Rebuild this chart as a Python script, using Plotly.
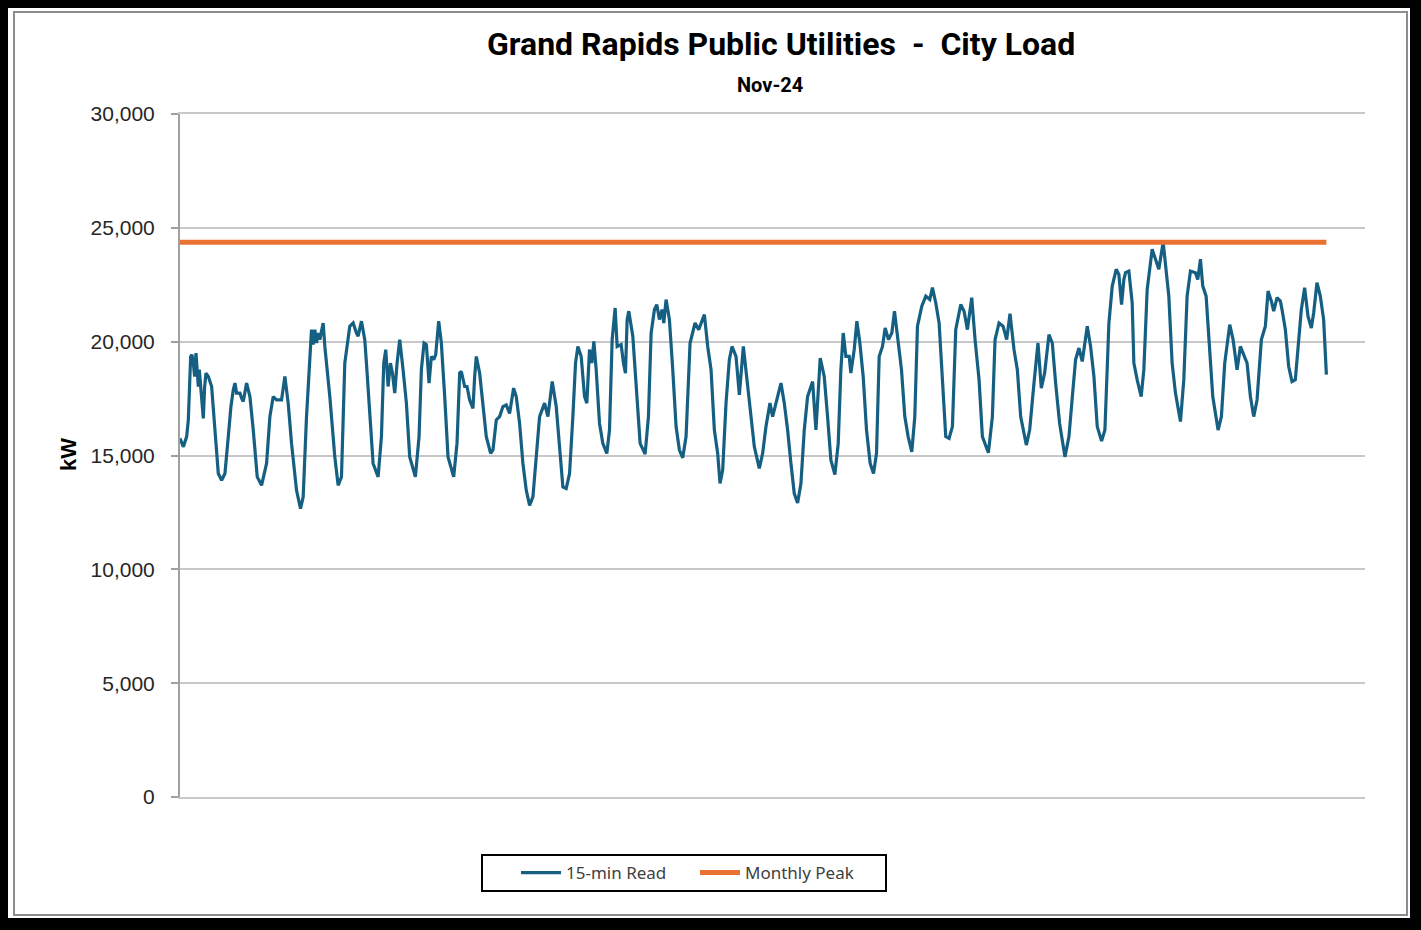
import plotly.graph_objects as go

# ---------------- data ----------------
# hours elapsed since 2024-11-01 00:00, and the 15-min load reading (kW)
read_hours = [
    0.00, 2.09, 4.18, 5.23, 6.69, 7.53, 8.36, 9.20, 10.03, 10.87, 11.50, 12.12, 12.96, 13.80, 14.63, 15.47, 16.30, 17.77, 18.81, 19.86,
    21.95, 24.04, 26.13, 28.22, 30.31, 31.98, 33.44, 34.49, 35.53, 37.63, 38.67, 39.72, 41.81, 43.90, 45.99,
    48.49, 51.21, 54.35, 56.44, 58.53, 60.62, 63.75, 65.84, 67.93, 70.03,
    73.16, 75.67, 77.34, 79.43, 81.10, 82.57, 83.61, 84.66, 85.70, 86.75, 87.79, 89.88, 90.93, 94.06,
    97.20, 99.29, 101.38, 103.47, 106.60, 108.70, 110.79, 111.83, 113.92, 116.01,
    117.06, 119.15, 121.24, 124.38, 126.47, 127.93, 129.18, 130.65, 132.11, 133.36, 134.83, 136.29, 137.96, 140.05, 142.14,
    144.23, 147.79, 150.09, 151.55, 153.22, 154.69, 156.36, 157.82, 159.28, 160.54, 162.42, 164.09, 166.19,
    168.28, 171.83, 173.92, 175.59, 176.64, 178.73, 180.19, 181.86, 183.95, 185.00, 186.04, 188.13, 190.22,
    192.31, 195.03, 196.49, 198.58, 200.67, 202.76, 204.85, 206.94, 209.45, 211.12, 213.21,
    215.30, 217.40, 219.49, 221.58, 223.67, 225.76, 228.89, 230.99, 233.70,
    236.21, 238.30, 240.39, 242.48, 244.57, 246.66, 248.33, 249.80, 251.89, 253.98, 255.44, 257.11, 258.58, 259.83, 261.29,
    263.38, 265.47, 267.98, 269.66, 271.33, 273.21, 274.46, 276.97, 278.43, 279.69, 280.73, 281.78, 284.29, 286.80,
    288.89, 292.02, 294.11, 295.79, 297.88, 299.34, 301.01, 302.68, 303.73, 305.19, 307.28, 309.37,
    311.46, 313.55, 315.64, 317.73, 320.24, 323.38, 325.68, 329.23, 331.32, 333.41,
    335.50, 337.59, 339.05, 340.73, 342.82, 344.91, 346.58, 349.09, 351.18, 353.69,
    355.36, 357.45, 360.59, 363.72, 365.81, 367.90, 370.41, 372.08, 374.59, 377.31, 379.40, 381.49,
    383.58, 385.67, 387.76, 389.85, 391.94, 394.03, 397.17, 399.26, 401.97, 404.48, 406.57,
    408.66, 411.17, 413.26, 414.93, 416.40, 418.07, 420.16, 421.21, 423.30, 424.97, 426.85, 428.94, 431.03,
    433.33, 435.42, 437.30, 438.97, 441.06, 442.74, 444.83, 446.92, 448.59, 450.47, 452.98, 455.07,
    457.16, 459.46, 461.34, 463.01, 465.73, 468.24, 470.75, 472.42,
    474.51, 476.60, 478.69, 480.78, 482.87, 484.96, 487.05, 490.19, 492.28, 494.37, 497.09, 499.18, 501.68,
    503.77, 507.54, 510.05, 511.72, 514.23, 516.73, 519.03, 521.12, 523.63, 525.72, 527.81,
    531.37, 533.46, 536.17, 538.68, 540.77, 542.86, 545.58, 547.67, 549.76, 552.27,
    555.61, 558.12, 560.63, 562.30, 564.39, 566.48, 569.62, 571.71, 573.80, 575.89,
    578.61, 580.70, 583.21, 585.30, 587.80, 589.48, 591.15, 592.60, 593.66,
    595.74, 597.83, 598.88, 600.97, 603.48, 605.15, 607.24, 610.37, 612.88, 614.55, 617.27, 618.73, 620.82, 622.91, 625.00,
    628.14, 630.23, 632.32, 634.41, 637.55, 639.01, 640.68, 642.15, 644.24, 646.33, 648.42,
    651.76, 653.85, 655.94, 659.08, 661.17, 663.68, 665.77, 667.86, 669.95, 672.04,
    674.13, 676.22, 678.94, 681.44, 683.12, 685.21, 686.67, 688.76, 690.85, 691.90, 693.99, 696.08,
    698.17, 700.26, 702.35, 704.02, 706.11, 708.20, 710.30, 711.76, 713.85, 715.94, 718.03, 719.75,
]
read_kw = [
    15750, 15380, 15830, 16560, 19350, 19430, 19060, 18470, 19500, 18320, 18030, 18770, 17880, 17000, 16630, 18030, 18620, 18470, 18180, 18030,
    16120, 14210, 13910, 14210, 15830, 17150, 17880, 18180, 17740, 17740, 17520, 17370, 18180, 17590, 16120,
    14060, 13690, 14650, 16710, 17590, 17440, 17440, 18470, 17300, 15530,
    13470, 12660, 13180, 16710, 19060, 20530, 19870, 20530, 19940, 20380, 20090, 20820, 19790, 17590,
    14940, 13690, 14060, 19060, 20680, 20820, 20380, 20240, 20900, 20090,
    19060, 16710, 14650, 14060, 15830, 19060, 19650, 18030, 19060, 18620, 17740, 19060, 20090, 18770, 17300,
    14940, 14060, 15830, 18770, 19940, 19870, 18180, 19350, 19210, 19430, 20900, 19940, 17590,
    14940, 14060, 15530, 18620, 18690, 18030, 18030, 17440, 17070, 18470, 19350, 18620, 17300,
    15830, 15090, 15240, 16560, 16710, 17150, 17220, 16850, 17960, 17590, 16410,
    14650, 13470, 12810, 13180, 14940, 16710, 17300, 16710, 18250,
    17150, 15380, 13620, 13550, 14210, 16710, 19060, 19790, 19350, 17590, 17300, 19650, 19060, 20010, 18770,
    16410, 15530, 15090, 16120, 20090, 21480, 19790, 19870, 19060, 18620, 20970, 21340, 20240, 17590,
    15530, 15060, 16710, 20380, 21410, 21630, 20970, 21410, 20820, 21850, 20970, 18770,
    16270, 15240, 14900, 15830, 19940, 20820, 20530, 21190, 19790, 18770,
    16120, 15090, 13770, 14360, 17300, 19210, 19790, 19350, 17660, 19790,
    18770, 17300, 15380, 14430, 15090, 16270, 17300, 16710, 17440, 18180, 17300, 16120,
    14650, 13330, 12910, 13770, 16120, 17590, 18250, 16120, 19280, 18470, 16710,
    14800, 14160, 15530, 18770, 20380, 19350, 19350, 18620, 19650, 20900, 19940, 18470, 16120,
    14650, 14210, 15090, 19350, 19790, 20600, 20090, 20380, 21340, 20240, 18770, 16710,
    15830, 15160, 16710, 20680, 21560, 22000, 21850, 22370,
    21700, 20820, 18470, 15830, 15750, 16270, 20530, 21630, 21340, 20530, 21930, 20090, 18330,
    15830, 15120, 16710, 20090, 20820, 20680, 20090, 21230, 19650, 18770, 16710,
    15460, 16120, 18180, 19940, 17960, 18620, 20310, 19940, 18180, 16410,
    14940, 15830, 17880, 19210, 19720, 19130, 20680, 19790, 18470, 16270,
    15630, 16120, 20820, 22440, 23180, 22950, 21630, 22730, 23030,
    23100, 21700, 19060, 18320, 17590, 18770, 22290, 24060, 23470, 23180, 24370, 23470, 22000, 19060, 17740,
    16490, 18320, 22000, 23100, 23030, 22730, 23620, 22440, 22000, 19790, 17590,
    16120, 16710, 19060, 20750, 20090, 18770, 19790, 19430, 19060, 17590,
    16710, 17440, 20090, 20680, 22220, 21780, 21340, 21930, 21780, 21410, 20530, 18910,
    18250, 18330, 20090, 21410, 22370, 21120, 20600, 21260, 22590, 22000, 20970, 18550,
]
assert len(read_hours) == len(read_kw)

monthly_peak_kw = 24370
axis_span_hours = 744          # category axis spans 31 days
y_ticks = [0, 5000, 10000, 15000, 20000, 25000, 30000]
title_text = "Grand Rapids Public Utilities  -  City Load"
subtitle_text = "Nov-24"
y_title_text = "kW"
read_name = "15-min Read"
peak_name = "Monthly Peak"

# ---------------- layout geometry ----------------
W, H = 1421, 930
L, R, T, B = 180, 56, 114, 133
PW, PH = W - L - R, H - T - B


def fx(x):
    return (x - L) / PW


def fy(y):
    return (H - B - y) / PH


BLUE = "#156082"
ORANGE = "#E97132"
GRID = "#c8c8c8"
AXIS = "#a0a0a0"

fig = go.Figure()
fig.add_trace(go.Scatter(
    x=read_hours, y=read_kw, mode="lines", name=read_name,
    line=dict(color=BLUE, width=3.2), hoverinfo="skip",
))
fig.add_trace(go.Scatter(
    x=[read_hours[0], read_hours[-1]], y=[monthly_peak_kw, monthly_peak_kw],
    mode="lines", name=peak_name,
    line=dict(color=ORANGE, width=5), hoverinfo="skip",
))

shapes = [
    dict(type="rect", xref="paper", yref="paper", x0=fx(8), x1=fx(1410), y0=fy(918), y1=fy(8),
         fillcolor="white", line=dict(width=0), layer="below"),
    dict(type="rect", xref="paper", yref="paper", x0=fx(14), x1=fx(1407), y0=fy(915), y1=fy(12),
         fillcolor="rgba(0,0,0,0)", line=dict(color="#8c8c8c", width=2), layer="below"),
    # legend frame
    dict(type="rect", xref="paper", yref="paper", x0=fx(482), x1=fx(886), y0=fy(891), y1=fy(855),
         fillcolor="white", line=dict(color="#000000", width=2), layer="below"),
]

annotations = [
    dict(text=f"<b>{title_text}</b>", xref="paper", yref="paper", x=fx(781), y=fy(44),
         xanchor="center", yanchor="middle", showarrow=False,
         font=dict(family="Roboto", size=32, color="#000000")),
    dict(text=f"<b>{subtitle_text}</b>", xref="paper", yref="paper", x=fx(770), y=fy(85),
         xanchor="center", yanchor="middle", showarrow=False,
         font=dict(family="Roboto", size=20, color="#000000")),
    dict(text=f"<b>{y_title_text}</b>", xref="paper", yref="paper", x=fx(68), y=fy(455),
         xanchor="center", yanchor="middle", showarrow=False, textangle=-90,
         font=dict(family="Liberation Sans", size=22, color="#000000")),
]

fig.update_layout(
    width=W, height=H,
    margin=dict(l=L, r=R, t=T, b=B, pad=0),
    paper_bgcolor="black", plot_bgcolor="white",
    shapes=shapes, annotations=annotations,
    showlegend=True,
    legend=dict(
        orientation="h", x=fx(516), y=fy(873), xanchor="left", yanchor="middle",
        bgcolor="rgba(0,0,0,0)", borderwidth=0,
        font=dict(family="Noto Sans", size=17, color="#404040"),
        itemwidth=40, entrywidth=124, entrywidthmode="pixels", traceorder="normal",
    ),
    xaxis=dict(range=[0, axis_span_hours], showticklabels=False, showgrid=False,
               zeroline=False, showline=True, mirror=True, linecolor=GRID, linewidth=1.5,
               ticks=""),
    yaxis=dict(range=[0, 30000], tickvals=y_ticks, tickformat=",",
               showgrid=True, gridcolor=GRID, gridwidth=1.5,
               zeroline=False, showline=True, linecolor=AXIS, linewidth=2,
               ticks="outside", ticklen=7, tickcolor=AXIS, tickwidth=2,
               ticklabelstandoff=12,
               tickfont=dict(family="Liberation Sans", size=21, color="#262626")),
)

fig.write_html(
    "out.html",
    config={"displayModeBar": False},
    post_script="document.body.style.margin='0';document.body.style.overflow='hidden';",
)
